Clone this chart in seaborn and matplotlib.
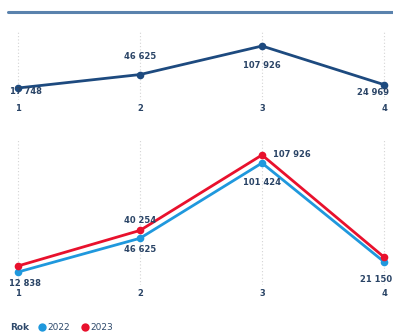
import matplotlib
matplotlib.use("Agg")
import matplotlib.pyplot as plt
from matplotlib.lines import Line2D
import seaborn as sns
import pandas as pd

# ---- data ----
kwartaly = [1, 2, 3, 4]
tick_labels = ["1", "2", "3", "4"]
wartosci_2022 = [12838, 40254, 101424, 21150]
wartosci_2023 = [17748, 46625, 107926, 24969]
lata = ["2022", "2023"]

def fmt(v):
    return f"{v:,}".replace(",", " ")

sns.set_theme(style="white")
plt.rcParams["font.family"] = ["DejaVu Sans"]

W, H = 393, 333
fig = plt.figure(figsize=(W / 100, H / 100), dpi=100)
fig.patch.set_facecolor("white")

navy = "#1d4a7f"
c2022 = "#1f98dd"
c2023 = "#e8112d"
txt = "#2a4466"
grid_c = "#d4d4d4"

def px_axes(x0, y0, x1, y1):
    return fig.add_axes([x0 / W, 1 - y1 / H, (x1 - x0) / W, (y1 - y0) / H])

def xlim_for(ax, x0, x1):
    # category 1 at 18 px, category 4 at 384 px
    step = (384 - 18) / 3
    ax.set_xlim(1 - (18 - x0) / step, 4 + (x1 - 384) / step)

def style(ax):
    for s in ax.spines.values():
        s.set_visible(False)
    ax.set_yticks([])
    ax.set_xticks(kwartaly)
    ax.set_xticklabels(tick_labels, fontsize=6, color=txt, fontweight="semibold")
    ax.tick_params(axis="x", length=0, pad=3)
    ax.set_xlabel("")
    ax.set_ylabel("")
    for k in kwartaly:
        ax.axvline(k, color=grid_c, lw=0.8, ls=(0, (1, 2)), zorder=0)
    ax.set_facecolor("none")

# header line
fig.add_artist(Line2D([8 / W, 1.0], [1 - 12 / H, 1 - 12 / H], color="#5a82ad", lw=2.2))

# ---- top chart ----
ax1 = px_axes(0, 30, W, 100)
df_top = pd.DataFrame({"Kwartal": kwartaly, "Wartosc": wartosci_2023})
sns.lineplot(data=df_top, x="Kwartal", y="Wartosc", ax=ax1, color=navy,
             marker="o", markersize=5.5, markeredgewidth=0, linewidth=2)
xlim_for(ax1, 0, W)
s1 = (107926 - 17748) / 42
ax1.set_ylim(17748 - 12 * s1, 107926 + 16 * s1)
style(ax1)

top_off = [(8, -4), (0, 18), (0, -19), (-11, -8)]
for k, v, off in zip(kwartaly, wartosci_2023, top_off):
    ax1.annotate(fmt(v), (k, v), xytext=off, textcoords="offset pixels",
                 ha="center", va="center", fontsize=6, color=txt, fontweight="semibold")

# ---- bottom chart ----
ax2 = px_axes(0, 140, W, 285)
df_bot = pd.DataFrame({
    "Kwartal": kwartaly * 2,
    "Wartosc": wartosci_2022 + wartosci_2023,
    "Rok": [lata[0]] * 4 + [lata[1]] * 4,
})
sns.lineplot(data=df_bot, x="Kwartal", y="Wartosc", hue="Rok", ax=ax2,
             palette={"2022": c2022, "2023": c2023}, marker="o", markersize=5.5,
             markeredgewidth=0, linewidth=2, legend=False)
xlim_for(ax2, 0, W)
s2 = (101424 - 12838) / 109
ax2.set_ylim(12838 - 13 * s2, 12838 + 132 * s2)
style(ax2)

# data labels (placement as in reference)
ann = [
    (1, wartosci_2022[0], fmt(wartosci_2022[0]), (7, -11), "center"),
    (2, wartosci_2023[1], fmt(wartosci_2022[1]), (0, 10), "center"),
    (2, wartosci_2022[1], fmt(wartosci_2023[1]), (0, -11), "center"),
    (3, wartosci_2023[2], fmt(wartosci_2023[2]), (11, 0), "left"),
    (3, wartosci_2022[2], fmt(wartosci_2022[2]), (0, -19), "center"),
    (4, wartosci_2022[3], fmt(wartosci_2022[3]), (-8, -18), "center"),
]
for k, v, t, off, ha in ann:
    ax2.annotate(t, (k, v), xytext=off, textcoords="offset pixels",
                 ha=ha, va="center", fontsize=6, color=txt, fontweight="semibold")

# ---- legend ----
ly = 1 - 327 / H
leg_c = "#2f4a6c"
fig.text(10 / W, ly, "Rok", fontsize=6.5, color=leg_c, va="center", ha="left",
         fontweight="semibold")
for cx, col, lab in [(42, c2022, lata[0]), (85, c2023, lata[1])]:
    fig.add_artist(Line2D([cx / W], [ly], marker="o", color=col, markersize=6,
                          markeredgewidth=0, linestyle="none"))
    fig.text((cx + 5) / W, ly, lab, fontsize=6.5, color=leg_c, va="center", ha="left")

fig.savefig("out.png", dpi=100)
